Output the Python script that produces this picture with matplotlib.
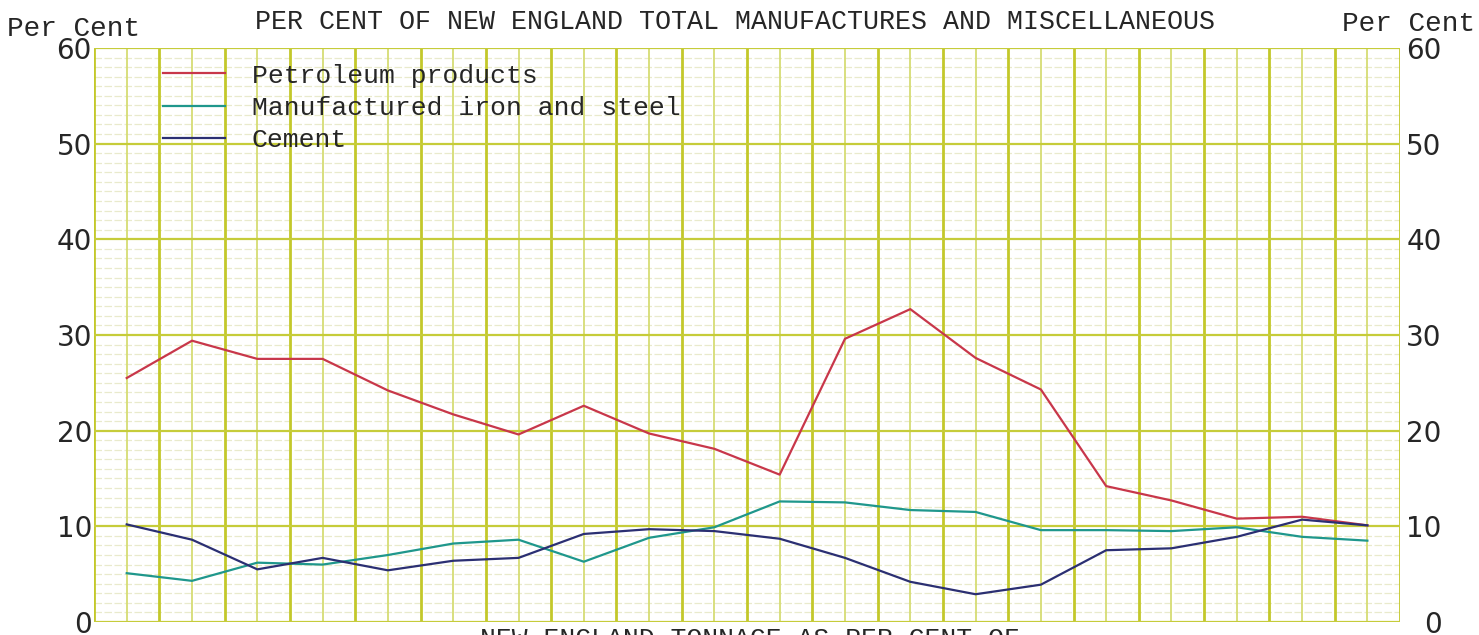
import numpy as np
import matplotlib
matplotlib.use("Agg")
from matplotlib import pyplot as plt

# values, 20 periods
periods = list(range(20))
petroleum = [25.5, 29.4, 27.5, 27.5, 24.2, 21.7, 19.6, 22.6, 19.7, 18.1,
             15.4, 29.6, 32.7, 27.6, 24.3, 14.2, 12.7, 10.8, 11.0, 10.1]
iron_steel = [5.1, 4.3, 6.2, 6.0, 7.0, 8.2, 8.6, 6.3, 8.8, 9.9,
              12.6, 12.5, 11.7, 11.5, 9.6, 9.6, 9.5, 9.9, 8.9, 8.5]
cement = [10.2, 8.6, 5.5, 6.7, 5.4, 6.4, 6.7, 9.2, 9.7, 9.5,
          8.7, 6.7, 4.2, 2.9, 3.9, 7.5, 7.7, 8.9, 10.7, 10.1]
y_ticks = [0, 10, 20, 30, 40, 50, 60]

series = [
    ("Petroleum products", petroleum, "#c8374a"),
    ("Manufactured iron and steel", iron_steel, "#1f978c"),
    ("Cement", cement, "#2b2f72"),
]

mono = "Liberation Mono"
ink = "#262626"

fig = plt.figure(figsize=(14.79, 6.35), dpi=100)
ax = fig.add_axes([0.0636, 0.0205, 0.883, 0.904])

# each period sits on an odd column of the grid paper
x = [2 * p + 1 for p in periods]

# graph paper
for v in range(0, 41):
    if v % 2 == 0:
        ax.axvline(v, color="#c3c82a", lw=2.0, zorder=1)
    else:
        ax.axvline(v, color="#d6dc74", lw=1.3, zorder=1)
for h in range(0, 61):
    if h % 10 == 0:
        ax.axhline(h, color="#c6cc3a", lw=1.6, zorder=1)
    else:
        ax.axhline(h, color="#e9eacc", lw=0.9, ls=(0, (6, 2)), zorder=0.5)

for label, vals, col in series:
    ax.plot(x, vals, color=col, lw=1.6, label=label, zorder=3)

ax.set_xlim(0, 40)
ax.set_ylim(0, 60)
ax.set_xticks([])
ax.set_yticks(y_ticks)
ax.set_yticklabels([str(t) for t in y_ticks], fontsize=20, color=ink)
ax.tick_params(axis="y", length=0, pad=1.5)
for s in ax.spines.values():
    s.set_visible(False)

ax2 = ax.twinx()
ax2.set_ylim(0, 60)
ax2.set_yticks(y_ticks)
ax2.set_yticklabels([str(t) for t in y_ticks], fontsize=20, color=ink, ha="right")
ax2.tick_params(axis="y", length=0, pad=30)
for s in ax2.spines.values():
    s.set_visible(False)

leg = ax.legend(loc="upper left", bbox_to_anchor=(0.039, 1.005), frameon=False,
                prop={"family": mono, "size": 19}, handlelength=2.35,
                handletextpad=1.0, labelspacing=0.32, borderpad=0.2)
for t in leg.get_texts():
    t.set_color(ink)

fig.text(0.497, 0.965, "PER CENT OF NEW ENGLAND TOTAL MANUFACTURES AND MISCELLANEOUS",
         family=mono, fontsize=19.2, ha="center", va="center", color=ink)
fig.text(0.005, 0.955, "Per Cent", family=mono, fontsize=20, ha="left",
         va="center", color=ink)
fig.text(0.997, 0.962, "Per Cent", family=mono, fontsize=20, ha="right",
         va="center", color=ink)
fig.text(0.507, 0.012, "NEW ENGLAND TONNAGE AS PER CENT OF", family=mono,
         fontsize=19, ha="center", va="top", color=ink)

fig.savefig("out.png", dpi=100, facecolor="white")
